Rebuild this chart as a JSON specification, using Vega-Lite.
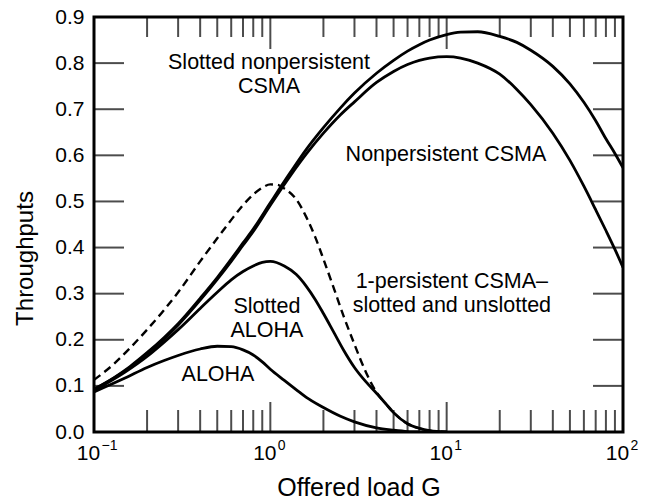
{
  "$schema": "https://vega.github.io/schema/vega-lite/v6.json",
  "width": 529,
  "height": 415,
  "autosize": "none",
  "padding": {"left": 94, "top": 17, "right": 28, "bottom": 68},
  "background": "white",
  "config": {
    "view": {"stroke": "black", "strokeWidth": 3},
    "font": "Liberation Sans",
    "axis": {
      "domain": false,
      "grid": false,
      "labelColor": "black",
      "titleColor": "black",
      "labelFont": "Liberation Sans",
      "titleFont": "Liberation Sans",
      "titleFontWeight": "normal"
    }
  },
  "datasets": {
    "curves": [
      {"series": "Slotted nonpersistent CSMA", "G": 0.1, "T": 0.093},
      {"series": "Slotted nonpersistent CSMA", "G": 0.13, "T": 0.118},
      {"series": "Slotted nonpersistent CSMA", "G": 0.16, "T": 0.142},
      {"series": "Slotted nonpersistent CSMA", "G": 0.2, "T": 0.172},
      {"series": "Slotted nonpersistent CSMA", "G": 0.25, "T": 0.205},
      {"series": "Slotted nonpersistent CSMA", "G": 0.3, "T": 0.235},
      {"series": "Slotted nonpersistent CSMA", "G": 0.4, "T": 0.29},
      {"series": "Slotted nonpersistent CSMA", "G": 0.5, "T": 0.335},
      {"series": "Slotted nonpersistent CSMA", "G": 0.6, "T": 0.375},
      {"series": "Slotted nonpersistent CSMA", "G": 0.7, "T": 0.41},
      {"series": "Slotted nonpersistent CSMA", "G": 0.8, "T": 0.44},
      {"series": "Slotted nonpersistent CSMA", "G": 1.0, "T": 0.497},
      {"series": "Slotted nonpersistent CSMA", "G": 1.3, "T": 0.563},
      {"series": "Slotted nonpersistent CSMA", "G": 1.6, "T": 0.613},
      {"series": "Slotted nonpersistent CSMA", "G": 2.0, "T": 0.66},
      {"series": "Slotted nonpersistent CSMA", "G": 2.5, "T": 0.703},
      {"series": "Slotted nonpersistent CSMA", "G": 3.0, "T": 0.735},
      {"series": "Slotted nonpersistent CSMA", "G": 4.0, "T": 0.778},
      {"series": "Slotted nonpersistent CSMA", "G": 5.0, "T": 0.806},
      {"series": "Slotted nonpersistent CSMA", "G": 6.0, "T": 0.826},
      {"series": "Slotted nonpersistent CSMA", "G": 7.0, "T": 0.84},
      {"series": "Slotted nonpersistent CSMA", "G": 8.0, "T": 0.85},
      {"series": "Slotted nonpersistent CSMA", "G": 10, "T": 0.862},
      {"series": "Slotted nonpersistent CSMA", "G": 12, "T": 0.867},
      {"series": "Slotted nonpersistent CSMA", "G": 15, "T": 0.868},
      {"series": "Slotted nonpersistent CSMA", "G": 20, "T": 0.858},
      {"series": "Slotted nonpersistent CSMA", "G": 25, "T": 0.845},
      {"series": "Slotted nonpersistent CSMA", "G": 30, "T": 0.828},
      {"series": "Slotted nonpersistent CSMA", "G": 40, "T": 0.793},
      {"series": "Slotted nonpersistent CSMA", "G": 50, "T": 0.755},
      {"series": "Slotted nonpersistent CSMA", "G": 60, "T": 0.715},
      {"series": "Slotted nonpersistent CSMA", "G": 70, "T": 0.675},
      {"series": "Slotted nonpersistent CSMA", "G": 80, "T": 0.636},
      {"series": "Slotted nonpersistent CSMA", "G": 90, "T": 0.604},
      {"series": "Slotted nonpersistent CSMA", "G": 100, "T": 0.573},

      {"series": "Nonpersistent CSMA", "G": 0.1, "T": 0.092},
      {"series": "Nonpersistent CSMA", "G": 0.13, "T": 0.117},
      {"series": "Nonpersistent CSMA", "G": 0.16, "T": 0.14},
      {"series": "Nonpersistent CSMA", "G": 0.2, "T": 0.17},
      {"series": "Nonpersistent CSMA", "G": 0.25, "T": 0.202},
      {"series": "Nonpersistent CSMA", "G": 0.3, "T": 0.232},
      {"series": "Nonpersistent CSMA", "G": 0.4, "T": 0.286},
      {"series": "Nonpersistent CSMA", "G": 0.5, "T": 0.331},
      {"series": "Nonpersistent CSMA", "G": 0.6, "T": 0.37},
      {"series": "Nonpersistent CSMA", "G": 0.7, "T": 0.405},
      {"series": "Nonpersistent CSMA", "G": 0.8, "T": 0.435},
      {"series": "Nonpersistent CSMA", "G": 1.0, "T": 0.492},
      {"series": "Nonpersistent CSMA", "G": 1.3, "T": 0.556},
      {"series": "Nonpersistent CSMA", "G": 1.6, "T": 0.603},
      {"series": "Nonpersistent CSMA", "G": 2.0, "T": 0.648},
      {"series": "Nonpersistent CSMA", "G": 2.5, "T": 0.688},
      {"series": "Nonpersistent CSMA", "G": 3.0, "T": 0.716},
      {"series": "Nonpersistent CSMA", "G": 4.0, "T": 0.758},
      {"series": "Nonpersistent CSMA", "G": 5.0, "T": 0.782},
      {"series": "Nonpersistent CSMA", "G": 6.0, "T": 0.797},
      {"series": "Nonpersistent CSMA", "G": 7.0, "T": 0.806},
      {"series": "Nonpersistent CSMA", "G": 8.0, "T": 0.811},
      {"series": "Nonpersistent CSMA", "G": 10, "T": 0.814},
      {"series": "Nonpersistent CSMA", "G": 12, "T": 0.811},
      {"series": "Nonpersistent CSMA", "G": 15, "T": 0.8},
      {"series": "Nonpersistent CSMA", "G": 20, "T": 0.776},
      {"series": "Nonpersistent CSMA", "G": 25, "T": 0.743},
      {"series": "Nonpersistent CSMA", "G": 30, "T": 0.71},
      {"series": "Nonpersistent CSMA", "G": 40, "T": 0.648},
      {"series": "Nonpersistent CSMA", "G": 50, "T": 0.589},
      {"series": "Nonpersistent CSMA", "G": 60, "T": 0.533},
      {"series": "Nonpersistent CSMA", "G": 70, "T": 0.482},
      {"series": "Nonpersistent CSMA", "G": 80, "T": 0.437},
      {"series": "Nonpersistent CSMA", "G": 90, "T": 0.396},
      {"series": "Nonpersistent CSMA", "G": 100, "T": 0.357},

      {"series": "Slotted ALOHA", "G": 0.1, "T": 0.09},
      {"series": "Slotted ALOHA", "G": 0.15, "T": 0.13},
      {"series": "Slotted ALOHA", "G": 0.2, "T": 0.164},
      {"series": "Slotted ALOHA", "G": 0.25, "T": 0.195},
      {"series": "Slotted ALOHA", "G": 0.3, "T": 0.222},
      {"series": "Slotted ALOHA", "G": 0.4, "T": 0.268},
      {"series": "Slotted ALOHA", "G": 0.5, "T": 0.303},
      {"series": "Slotted ALOHA", "G": 0.6, "T": 0.33},
      {"series": "Slotted ALOHA", "G": 0.7, "T": 0.348},
      {"series": "Slotted ALOHA", "G": 0.8, "T": 0.36},
      {"series": "Slotted ALOHA", "G": 0.9, "T": 0.368},
      {"series": "Slotted ALOHA", "G": 1.0, "T": 0.37},
      {"series": "Slotted ALOHA", "G": 1.2, "T": 0.36},
      {"series": "Slotted ALOHA", "G": 1.4, "T": 0.342},
      {"series": "Slotted ALOHA", "G": 1.6, "T": 0.316},
      {"series": "Slotted ALOHA", "G": 1.8, "T": 0.287},
      {"series": "Slotted ALOHA", "G": 2.0, "T": 0.257},
      {"series": "Slotted ALOHA", "G": 2.3, "T": 0.215},
      {"series": "Slotted ALOHA", "G": 2.6, "T": 0.178},
      {"series": "Slotted ALOHA", "G": 3.0, "T": 0.14},
      {"series": "Slotted ALOHA", "G": 3.5, "T": 0.108},
      {"series": "Slotted ALOHA", "G": 4.0, "T": 0.084},
      {"series": "Slotted ALOHA", "G": 4.5, "T": 0.062},
      {"series": "Slotted ALOHA", "G": 5.0, "T": 0.042},
      {"series": "Slotted ALOHA", "G": 6.0, "T": 0.018},
      {"series": "Slotted ALOHA", "G": 7.0, "T": 0.008},
      {"series": "Slotted ALOHA", "G": 8.0, "T": 0.003},
      {"series": "Slotted ALOHA", "G": 10, "T": 0.0},

      {"series": "ALOHA", "G": 0.1, "T": 0.087},
      {"series": "ALOHA", "G": 0.15, "T": 0.117},
      {"series": "ALOHA", "G": 0.2, "T": 0.14},
      {"series": "ALOHA", "G": 0.25, "T": 0.155},
      {"series": "ALOHA", "G": 0.3, "T": 0.166},
      {"series": "ALOHA", "G": 0.4, "T": 0.18},
      {"series": "ALOHA", "G": 0.5, "T": 0.186},
      {"series": "ALOHA", "G": 0.6, "T": 0.185},
      {"series": "ALOHA", "G": 0.7, "T": 0.178},
      {"series": "ALOHA", "G": 0.8, "T": 0.167},
      {"series": "ALOHA", "G": 0.9, "T": 0.152},
      {"series": "ALOHA", "G": 1.0, "T": 0.136},
      {"series": "ALOHA", "G": 1.2, "T": 0.112},
      {"series": "ALOHA", "G": 1.4, "T": 0.092},
      {"series": "ALOHA", "G": 1.6, "T": 0.075},
      {"series": "ALOHA", "G": 2.0, "T": 0.053},
      {"series": "ALOHA", "G": 2.5, "T": 0.034},
      {"series": "ALOHA", "G": 3.0, "T": 0.022},
      {"series": "ALOHA", "G": 4.0, "T": 0.009},
      {"series": "ALOHA", "G": 5.0, "T": 0.004},
      {"series": "ALOHA", "G": 6.0, "T": 0.001},
      {"series": "ALOHA", "G": 7.0, "T": 0.0},

      {"series": "1-persistent CSMA", "G": 0.1, "T": 0.113},
      {"series": "1-persistent CSMA", "G": 0.13, "T": 0.148},
      {"series": "1-persistent CSMA", "G": 0.16, "T": 0.182},
      {"series": "1-persistent CSMA", "G": 0.2, "T": 0.222},
      {"series": "1-persistent CSMA", "G": 0.25, "T": 0.265},
      {"series": "1-persistent CSMA", "G": 0.3, "T": 0.303},
      {"series": "1-persistent CSMA", "G": 0.4, "T": 0.37},
      {"series": "1-persistent CSMA", "G": 0.5, "T": 0.42},
      {"series": "1-persistent CSMA", "G": 0.6, "T": 0.46},
      {"series": "1-persistent CSMA", "G": 0.7, "T": 0.492},
      {"series": "1-persistent CSMA", "G": 0.8, "T": 0.515},
      {"series": "1-persistent CSMA", "G": 0.9, "T": 0.53},
      {"series": "1-persistent CSMA", "G": 1.0, "T": 0.537},
      {"series": "1-persistent CSMA", "G": 1.1, "T": 0.536},
      {"series": "1-persistent CSMA", "G": 1.2, "T": 0.528},
      {"series": "1-persistent CSMA", "G": 1.4, "T": 0.505},
      {"series": "1-persistent CSMA", "G": 1.6, "T": 0.466},
      {"series": "1-persistent CSMA", "G": 1.8, "T": 0.422},
      {"series": "1-persistent CSMA", "G": 2.0, "T": 0.375},
      {"series": "1-persistent CSMA", "G": 2.3, "T": 0.31},
      {"series": "1-persistent CSMA", "G": 2.6, "T": 0.252},
      {"series": "1-persistent CSMA", "G": 3.0, "T": 0.19},
      {"series": "1-persistent CSMA", "G": 3.5, "T": 0.128},
      {"series": "1-persistent CSMA", "G": 4.0, "T": 0.086},
      {"series": "1-persistent CSMA", "G": 4.5, "T": 0.062},
      {"series": "1-persistent CSMA", "G": 5.0, "T": 0.042},
      {"series": "1-persistent CSMA", "G": 6.0, "T": 0.018},
      {"series": "1-persistent CSMA", "G": 7.0, "T": 0.008},
      {"series": "1-persistent CSMA", "G": 8.0, "T": 0.003},
      {"series": "1-persistent CSMA", "G": 10, "T": 0.0}
    ],
    "minorG": [
      {"G": 0.2}, {"G": 0.3}, {"G": 0.4}, {"G": 0.5}, {"G": 0.6}, {"G": 0.7}, {"G": 0.8}, {"G": 0.9},
      {"G": 2}, {"G": 3}, {"G": 4}, {"G": 5}, {"G": 6}, {"G": 7}, {"G": 8}, {"G": 9},
      {"G": 20}, {"G": 30}, {"G": 40}, {"G": 50}, {"G": 60}, {"G": 70}, {"G": 80}, {"G": 90}
    ],
    "majorG": [{"G": 1}, {"G": 10}],
    "gridT": [{"T": 0.1}, {"T": 0.2}, {"T": 0.3}, {"T": 0.4}, {"T": 0.5}, {"T": 0.6}, {"T": 0.7}, {"T": 0.8}]
  },
  "resolve": {"axis": {"x": "independent", "y": "independent"}},
  "layer": [
    {
      "data": {"name": "curves"},
      "transform": [{"filter": "datum.series !== '1-persistent CSMA'"}],
      "mark": {"type": "line", "color": "black", "strokeWidth": 2.8, "interpolate": "monotone", "clip": true},
      "encoding": {
        "x": {
          "field": "G", "type": "quantitative",
          "scale": {"type": "log", "domain": [0.1, 100], "nice": false},
          "axis": {
            "orient": "bottom", "values": [0.1, 1, 10, 100], "ticks": false,
            "labelExpr": "'10'",
            "labelFontSize": 21, "labelPadding": 10, "labelFlush": false, "labelBaseline": "top", "labelOffset": -6,
            "title": "Offered load G", "titleFontSize": 25, "titleBaseline": "alphabetic", "titleY": 63
          }
        },
        "y": {
          "field": "T", "type": "quantitative",
          "scale": {"domain": [0, 0.9], "nice": false, "zero": false},
          "axis": {
            "orient": "left", "values": [0, 0.1, 0.2, 0.3, 0.4, 0.5, 0.6, 0.7, 0.8, 0.9], "format": ".1f", "ticks": false,
            "labelFontSize": 21, "labelPadding": 10, "labelFlush": false,
            "title": "Throughputs", "titleFontSize": 24, "titleAngle": 270, "titleAlign": "center",
            "titleBaseline": "alphabetic", "titleX": -62, "titleY": 241
          }
        },
        "detail": {"field": "series"}
      }
    },
    {
      "data": {"name": "curves"},
      "transform": [{"filter": "datum.series === '1-persistent CSMA'"}],
      "mark": {"type": "line", "color": "black", "strokeWidth": 2.4, "strokeDash": [8, 5], "interpolate": "monotone", "clip": true},
      "encoding": {
        "x": {
          "field": "G", "type": "quantitative",
          "axis": {
            "orient": "bottom", "values": [0.1, 1, 10, 100], "ticks": false,
            "labelExpr": "datum.value < 0.5 ? '−1' : datum.value < 5 ? '0' : datum.value < 50 ? '1' : '2'",
            "labelFontSize": 14, "labelPadding": 6, "labelFlush": false, "labelBaseline": "top", "labelAlign": "left", "labelOffset": 7,
            "title": null
          }
        },
        "y": {"field": "T", "type": "quantitative", "axis": null}
      }
    },
    {
      "data": {"name": "minorG"},
      "mark": {"type": "tick", "orient": "vertical", "color": "black", "size": 22, "thickness": 2, "yOffset": -11},
      "encoding": {
        "x": {"field": "G", "type": "quantitative", "axis": null},
        "y": {"datum": 0, "type": "quantitative", "axis": null}
      }
    },
    {
      "data": {"name": "minorG"},
      "mark": {"type": "tick", "orient": "vertical", "color": "black", "size": 20, "thickness": 2, "yOffset": 10},
      "encoding": {
        "x": {"field": "G", "type": "quantitative", "axis": null},
        "y": {"datum": 0.9, "type": "quantitative", "axis": null}
      }
    },
    {
      "data": {"name": "majorG"},
      "mark": {"type": "tick", "orient": "vertical", "color": "black", "size": 30, "thickness": 2, "yOffset": -15},
      "encoding": {
        "x": {"field": "G", "type": "quantitative", "axis": null},
        "y": {"datum": 0, "type": "quantitative", "axis": null}
      }
    },
    {
      "data": {"name": "majorG"},
      "mark": {"type": "tick", "orient": "vertical", "color": "black", "size": 32, "thickness": 2, "yOffset": 16},
      "encoding": {
        "x": {"field": "G", "type": "quantitative", "axis": null},
        "y": {"datum": 0.9, "type": "quantitative", "axis": null}
      }
    },
    {
      "data": {"name": "gridT"},
      "mark": {"type": "tick", "orient": "horizontal", "color": "black", "size": 30, "thickness": 2, "xOffset": 15},
      "encoding": {
        "x": {"datum": 0.1, "type": "quantitative", "axis": null},
        "y": {"field": "T", "type": "quantitative", "axis": null}
      }
    },
    {
      "data": {"name": "gridT"},
      "mark": {"type": "tick", "orient": "horizontal", "color": "black", "size": 30, "thickness": 2, "xOffset": -15},
      "encoding": {
        "x": {"datum": 100, "type": "quantitative", "axis": null},
        "y": {"field": "T", "type": "quantitative", "axis": null}
      }
    },
    {
      "data": {"values": [
        {"G": 0.983, "T": 0.801, "label": "Slotted nonpersistent\nCSMA"},
        {"G": 10.7, "T": 0.325, "label": "1-persistent CSMA–\nslotted and unslotted"},
        {"G": 0.957, "T": 0.272, "label": "Slotted\nALOHA"}
      ]},
      "mark": {"type": "text", "color": "black", "font": "Liberation Sans", "fontSize": 21.5, "align": "center", "baseline": "middle", "lineHeight": 24, "lineBreak": "\n"},
      "encoding": {
        "x": {"field": "G", "type": "quantitative", "axis": null},
        "y": {"field": "T", "type": "quantitative", "axis": null},
        "text": {"field": "label"}
      }
    },
    {
      "data": {"values": [
        {"G": 9.91, "T": 0.601, "label": "Nonpersistent CSMA"},
        {"G": 0.505, "T": 0.124, "label": "ALOHA"}
      ]},
      "mark": {"type": "text", "color": "black", "font": "Liberation Sans", "fontSize": 21.5, "align": "center", "baseline": "middle"},
      "encoding": {
        "x": {"field": "G", "type": "quantitative", "axis": null},
        "y": {"field": "T", "type": "quantitative", "axis": null},
        "text": {"field": "label"}
      }
    }
  ]
}
